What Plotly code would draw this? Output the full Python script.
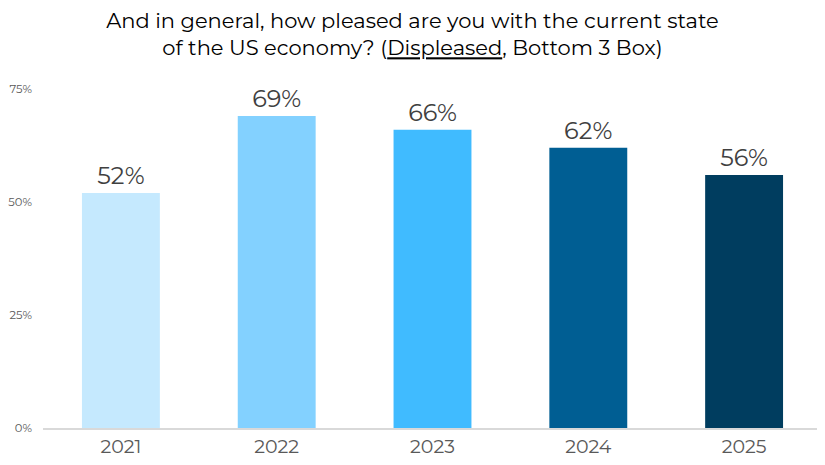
import plotly.graph_objects as go

years = ["2021", "2022", "2023", "2024", "2025"]
values = [52, 69, 66, 62, 56]
colors = ["#C5E9FE", "#83D1FF", "#40BBFF", "#005E93", "#003D5F"]
y_ticks = [0, 25, 50, 75]

FONT = "Montserrat, Lato, 'Open Sans', sans-serif"

fig = go.Figure()
fig.add_trace(go.Bar(
    x=years, y=values,
    marker=dict(color=colors, line=dict(width=0)),
    text=[f"{v}%" for v in values],
    textposition="outside",
    textfont=dict(size=24, color="#404040", family=FONT),
    cliponaxis=False,
    hoverinfo="skip",
))

fig.update_layout(
    width=825, height=465,
    paper_bgcolor="white", plot_bgcolor="white",
    margin=dict(l=35, r=11, t=81, b=45, autoexpand=False),
    bargap=0.5,
    showlegend=False,
    font=dict(family=FONT),
    title=dict(
        text="And in general, how pleased are you with the current state<br>of the US economy? (<span style='text-decoration:underline'>Displeased</span>, Bottom 3 Box)",
        x=0.4903, xanchor="center", y=0.957, yanchor="top",
        font=dict(size=21, color="#000000", family=FONT),
    ),
    xaxis=dict(
        showline=True, linecolor="#D9D9D9", linewidth=1.5,
        tickfont=dict(size=19, color="#595959"),
        ticks="", showgrid=False, automargin=False,
    ),
    yaxis=dict(
        range=[0, 75], tickvals=y_ticks,
        ticktext=[f"{t}%" for t in y_ticks],
        tickfont=dict(size=11.5, color="#595959"),
        showgrid=False, zeroline=False, showline=False,
        ticks="", ticklabelstandoff=10, automargin=False,
    ),
)

fig.write_html("out.html")
